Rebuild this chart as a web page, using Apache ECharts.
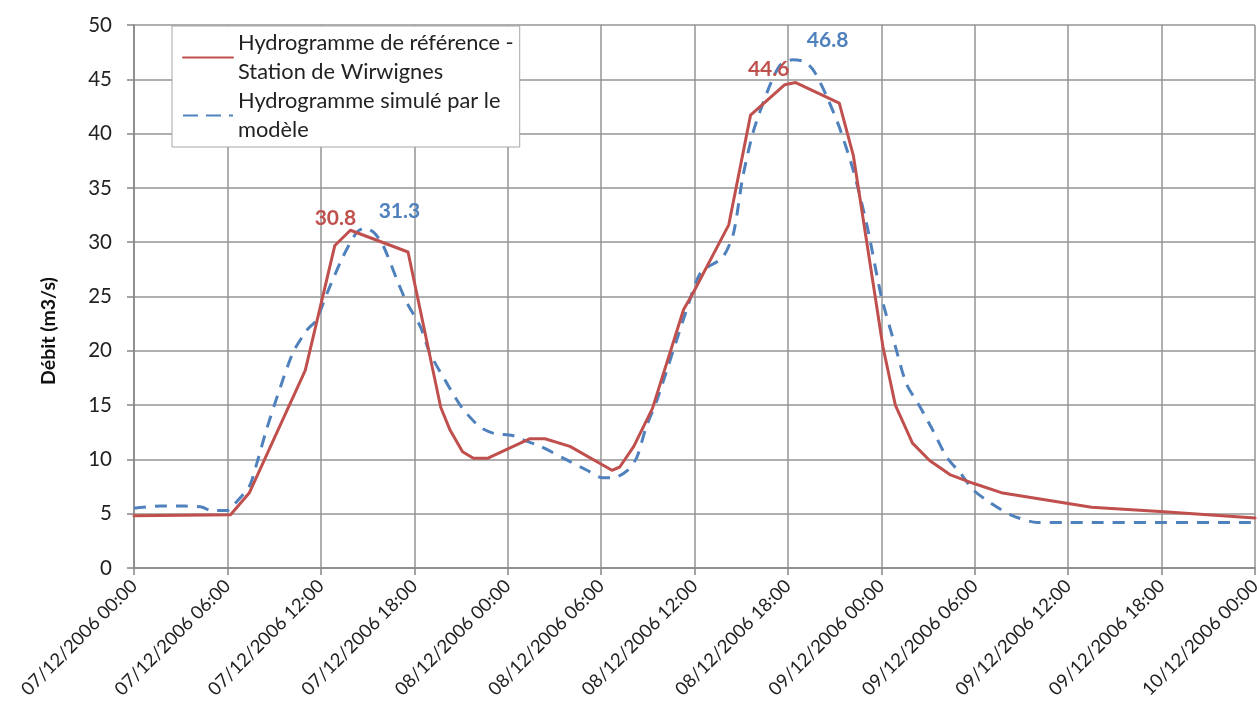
<!DOCTYPE html>
<html>
<head>
<meta charset="utf-8">
<script src="https://cdn.jsdelivr.net/npm/echarts@6/dist/echarts.min.js"></script>
<style>
  html, body { margin: 0; padding: 0; background: #ffffff; }
  #chart { width: 1260px; height: 720px; }
</style>
</head>
<body>
<div id="chart"></div>
<script>
// ---- DATA ----
// hours since 07/12/2006 00:00
const tickLabels = [
  '07/12/2006 00:00', '07/12/2006 06:00', '07/12/2006 12:00', '07/12/2006 18:00',
  '08/12/2006 00:00', '08/12/2006 06:00', '08/12/2006 12:00', '08/12/2006 18:00',
  '09/12/2006 00:00', '09/12/2006 06:00', '09/12/2006 12:00', '09/12/2006 18:00',
  '10/12/2006 00:00'
];
const refHours = [0, 6.2, 7.4, 11.0, 12.9, 13.9, 17.6, 19.7, 20.3, 21.1, 21.8, 22.7, 25.4, 26.4, 28.0, 30.7, 31.2, 32.1, 33.3, 35.3, 35.9, 38.2, 39.6, 41.8, 42.5, 45.3, 46.2, 48.1, 48.9, 50.0, 51.1, 52.4, 53.9, 55.8, 61.5, 65.9, 72];
const refFlow  = [4.8, 4.9, 6.9, 18.2, 29.7, 31.1, 29.1, 14.8, 12.7, 10.7, 10.1, 10.1, 11.9, 11.9, 11.2, 9.0, 9.3, 11.2, 14.7, 23.8, 25.3, 31.6, 41.7, 44.5, 44.7, 42.8, 38.0, 20.4, 15.0, 11.5, 9.9, 8.6, 7.8, 6.9, 5.6, 5.2, 4.6];
const simHours = [0, 1.7, 3.3, 4.4, 4.9, 6.0, 6.4, 7.4, 7.9, 8.5, 9.2, 10.2, 11.1, 11.7, 12.4, 13.4, 14.3, 14.8, 15.4, 16.0, 16.9, 17.5, 18.4, 19.0, 20.1, 21.1, 22.2, 23.1, 24.3, 24.8, 26.1, 27.6, 29.1, 30.1, 30.8, 31.7, 32.3, 32.9, 33.6, 35.5, 36.4, 37.8, 38.5, 39.1, 39.8, 40.8, 41.5, 42.3, 43.1, 43.7, 44.5, 45.3, 46.2, 47.1, 48.0, 48.9, 49.6, 50.5, 51.3, 52.2, 53.1, 53.9, 55.0, 56.3, 58.0, 72];
const simFlow  = [5.5, 5.7, 5.7, 5.6, 5.3, 5.3, 5.8, 7.5, 9.7, 12.7, 15.8, 19.8, 21.9, 22.8, 25.3, 28.6, 30.9, 31.3, 30.9, 29.7, 26.5, 24.5, 22.2, 19.8, 17.0, 14.7, 13.0, 12.4, 12.2, 11.9, 11.2, 10.1, 9.0, 8.3, 8.3, 9.0, 10.2, 13.0, 15.5, 23.8, 27.2, 28.6, 30.8, 36.0, 40.3, 44.3, 46.3, 46.8, 46.6, 45.7, 43.4, 40.6, 36.6, 31.4, 25.0, 20.4, 17.0, 14.8, 12.7, 10.2, 8.7, 7.2, 6.0, 4.9, 4.2, 4.2];
const refPeakHours = [13.9, 42.5];
const refPeakFlow  = [31.1, 44.7];
const refPeakText  = ['30.8', '44.6'];
const simPeakHours = [14.8, 42.3];
const simPeakFlow  = [31.3, 46.8];
const simPeakText  = ['31.3', '46.8'];
const seriesNames = ['Hydrogramme de référence -\nStation de Wirwignes', 'Hydrogramme simulé par le\nmodèle'];
const yTitle = 'Débit (m3/s)';

// ---- CHART ----
const FONT = 'Lato';
const RED = '#C0504D';
const BLUE = '#4F81BD';
const GRID_COLOR = '#959595';

const pairs = (xs, ys) => xs.map((x, i) => [x, ys[i]]);
const peakPoints = (xs, ys, texts, offsets) => xs.map((x, i) => ({
  coord: [x, ys[i]], value: texts[i],
  label: { offset: offsets[i] }
}));

const chart = echarts.init(document.getElementById('chart'), null, { renderer: 'canvas' });
chart.setOption({
  animation: false,
  backgroundColor: '#ffffff',
  grid: { left: 134, right: 5, top: 25, bottom: 152, outerBoundsMode: 'none', containLabel: false },
  legend: {
    orient: 'vertical', left: 172, top: 26,
    padding: [6, 6, 6, 10],
    itemWidth: 50, itemHeight: 14, itemGap: 7,
    backgroundColor: '#ffffff', borderColor: '#a6a6a6', borderWidth: 1, borderRadius: 0,
    itemStyle: { opacity: 0 },
    textStyle: { fontFamily: FONT, fontSize: 21.8, color: '#222', lineHeight: 29, height: 29 },
    data: [
      { name: seriesNames[0] },
      { name: seriesNames[1], lineStyle: { type: [15, 8] } }
    ],
    z: 10
  },
  xAxis: {
    type: 'value', min: 0, max: 72, interval: 6,
    axisLine: { show: true, onZero: false, lineStyle: { color: '#868686', width: 1.5 } },
    axisTick: { show: true, length: 7, inside: false, lineStyle: { color: '#868686', width: 1.5 } },
    splitLine: { show: true, lineStyle: { color: GRID_COLOR, width: 1.5 } },
    axisLabel: {
      rotate: 45, margin: 15, fontFamily: FONT, fontSize: 18.5, color: '#222',
      formatter: (v) => tickLabels[Math.round(v / 6)]
    }
  },
  yAxis: {
    type: 'value', min: 0, max: 50, interval: 5,
    axisLine: { show: true, lineStyle: { color: '#868686', width: 1.5 } },
    axisTick: { show: true, length: 7, inside: false, lineStyle: { color: '#868686', width: 1.5 } },
    splitLine: { show: true, lineStyle: { color: GRID_COLOR, width: 1.5 } },
    axisLabel: { margin: 22, fontFamily: FONT, fontSize: 20.5, color: '#222' }
  },
  graphic: [{
    type: 'text', x: 49, y: 331, rotation: Math.PI / 2,
    style: { text: yTitle, font: 'bold 19.5px ' + FONT, fill: '#111', align: 'center', verticalAlign: 'middle' }
  }],
  series: [
    {
      name: seriesNames[0], type: 'line', data: pairs(refHours, refFlow),
      symbol: 'none', smooth: false, color: RED,
      lineStyle: { color: RED, width: 3, cap: 'round', join: 'round' },
      markPoint: {
        symbol: 'circle', symbolSize: 0,
        label: { show: true, position: 'inside', formatter: '{c}', fontFamily: FONT, fontWeight: 'bold', fontSize: 21, color: RED },
        data: peakPoints(refPeakHours, refPeakFlow, refPeakText, [[-15, -12], [-27, -13]])
      },
      z: 3
    },
    {
      name: seriesNames[1], type: 'line', data: pairs(simHours, simFlow),
      symbol: 'none', smooth: 0.25, color: BLUE,
      lineStyle: { color: BLUE, width: 3, type: [12, 9], cap: 'butt' },
      markPoint: {
        symbol: 'circle', symbolSize: 0,
        label: { show: true, position: 'inside', formatter: '{c}', fontFamily: FONT, fontWeight: 'bold', fontSize: 21, color: BLUE },
        data: peakPoints(simPeakHours, simPeakFlow, simPeakText, [[35, -17], [35, -20]])
      },
      z: 2
    }
  ]
});
</script>
</body>
</html>
